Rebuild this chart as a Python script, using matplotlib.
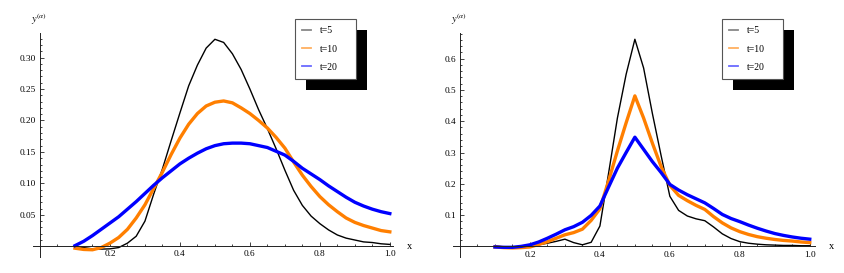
import matplotlib
matplotlib.use("Agg")
import matplotlib.pyplot as plt
from matplotlib.lines import Line2D
from matplotlib.patches import Rectangle
from matplotlib.transforms import IdentityTransform
from matplotlib.ticker import FixedLocator, FormatStrFormatter

plt.rcParams["font.family"] = ["Liberation Serif", "DejaVu Serif"]
plt.rcParams["mathtext.fontset"] = "stix"

x = [0.100, 0.125, 0.150, 0.175, 0.200, 0.225, 0.250, 0.275, 0.300, 0.325,
     0.350, 0.375, 0.400, 0.425, 0.450, 0.475, 0.500, 0.525, 0.550, 0.575,
     0.600, 0.625, 0.650, 0.675, 0.700, 0.725, 0.750, 0.775, 0.800, 0.825,
     0.850, 0.875, 0.900, 0.925, 0.950, 0.975, 1.000]

# left panel
left_t5 = [0.000, -0.002, -0.004, -0.0045, -0.004, -0.002, 0.005, 0.016, 0.040, 0.083,
           0.123, 0.168, 0.212, 0.255, 0.288, 0.315, 0.329, 0.324, 0.306, 0.281,
           0.250, 0.217, 0.187, 0.155, 0.121, 0.089, 0.065, 0.048, 0.036, 0.026,
           0.018, 0.013, 0.010, 0.007, 0.006, 0.004, 0.003]
left_t10 = [-0.003, -0.005, -0.0055, -0.002, 0.005, 0.014, 0.027, 0.045, 0.066, 0.092,
            0.118, 0.146, 0.172, 0.194, 0.211, 0.223, 0.229, 0.231, 0.228, 0.220,
            0.211, 0.200, 0.188, 0.173, 0.156, 0.134, 0.113, 0.095, 0.079, 0.066,
            0.055, 0.045, 0.038, 0.033, 0.029, 0.025, 0.023]
left_t20 = [0.001, 0.008, 0.017, 0.027, 0.037, 0.047, 0.059, 0.071, 0.084, 0.097,
            0.109, 0.120, 0.131, 0.140, 0.148, 0.155, 0.160, 0.163, 0.164, 0.164,
            0.163, 0.160, 0.157, 0.151, 0.145, 0.135, 0.124, 0.115, 0.106, 0.096,
            0.087, 0.078, 0.070, 0.064, 0.059, 0.055, 0.052]

# right panel
right_t5 = [0.002, -0.002, -0.004, -0.003, 0.000, 0.005, 0.010, 0.016, 0.023, 0.012,
            0.005, 0.013, 0.065, 0.235, 0.410, 0.550, 0.662, 0.570, 0.425, 0.290,
            0.160, 0.115, 0.097, 0.088, 0.082, 0.062, 0.040, 0.025, 0.015, 0.010,
            0.007, 0.005, 0.004, 0.003, 0.003, 0.002, 0.002]
right_t10 = [-0.002, -0.004, -0.005, -0.004, -0.002, 0.006, 0.015, 0.026, 0.037, 0.044,
             0.055, 0.083, 0.120, 0.210, 0.305, 0.395, 0.481, 0.410, 0.330, 0.255,
             0.195, 0.163, 0.146, 0.131, 0.118, 0.095, 0.075, 0.059, 0.047, 0.038,
             0.031, 0.026, 0.022, 0.019, 0.017, 0.014, 0.012]
right_t20 = [-0.002, -0.003, -0.003, 0.000, 0.005, 0.014, 0.026, 0.039, 0.053, 0.063,
             0.077, 0.099, 0.129, 0.190, 0.250, 0.300, 0.349, 0.310, 0.271, 0.236,
             0.198, 0.180, 0.165, 0.152, 0.139, 0.121, 0.102, 0.089, 0.079, 0.068,
             0.058, 0.049, 0.041, 0.035, 0.030, 0.026, 0.023]

labels = ["t=5", "t=10", "t=20"]
x_major = [0.2, 0.4, 0.6, 0.8, 1.0]
x_minor = [0.05, 0.1, 0.15, 0.25, 0.3, 0.35, 0.45, 0.5, 0.55, 0.65, 0.7, 0.75, 0.85, 0.9, 0.95]
left_y_major = [0.05, 0.10, 0.15, 0.20, 0.25, 0.30]
right_y_major = [0.1, 0.2, 0.3, 0.4, 0.5, 0.6]

fig = plt.figure(figsize=(8.45, 2.73), dpi=100)
W, H = 845, 273


def setup_axes(ax, ymajor, ystep, fmt):
    for side in ["top", "right"]:
        ax.spines[side].set_visible(False)
    ax.spines["left"].set_position("zero")
    ax.spines["bottom"].set_position("zero")
    for side in ["left", "bottom"]:
        ax.spines[side].set_linewidth(0.7)
        ax.spines[side].set_color("#222222")
    ax.xaxis.set_major_locator(FixedLocator(x_major))
    ax.xaxis.set_minor_locator(FixedLocator(x_minor))
    ax.xaxis.set_major_formatter(FormatStrFormatter("%.1f"))
    ax.yaxis.set_major_locator(FixedLocator(ymajor))
    yminor = [round(i * ystep, 3) for i in range(1, 40)
              if round(i * ystep, 3) not in ymajor and i * ystep < ax.get_ylim()[1]]
    ax.yaxis.set_minor_locator(FixedLocator(yminor))
    ax.yaxis.set_major_formatter(FormatStrFormatter(fmt))
    ax.tick_params(which="both", direction="in", width=0.6, color="#222222",
                   labelsize=6.7, pad=3)
    ax.tick_params(which="major", length=3.2)
    ax.tick_params(which="minor", length=1.6)
    ax.text(-0.004, ax.get_ylim()[1] + (ax.get_ylim()[1] - ax.get_ylim()[0]) * 0.025,
            r"$y^{(\alpha)}$", ha="center", va="bottom", fontsize=7.5)
    ax.annotate("x", xy=(1, 0), xycoords=("axes fraction", "data"),
                xytext=(10, 0), textcoords="offset points",
                ha="left", va="center", fontsize=7.5)


def add_legend(ax, left_px, top_px):
    handles = [Line2D([], [], color="#888888", lw=1.3),
               Line2D([], [], color="#ffb060", lw=1.3),
               Line2D([], [], color="#6a6aff", lw=1.3)]
    leg = ax.legend(handles, labels, loc="upper left",
                    bbox_to_anchor=(left_px / W, 1 - (top_px + 61) / H, 61 / W, 61 / H),
                    bbox_transform=fig.transFigure, mode="expand",
                    fontsize=7, handlelength=0.9, handletextpad=0.9,
                    labelspacing=0.95, borderpad=0.75, borderaxespad=0,
                    fancybox=False, framealpha=1, edgecolor="#555555")
    leg.get_frame().set_linewidth(0.8)
    leg.set_zorder(6)
    return leg


panels = [
    (33, 0.426, (-0.02, 1.009), (-0.017, 0.339), left_t5, left_t10, left_t20,
     left_y_major, 0.01, "%.2f", 295),
    (453, 0.428, (-0.02, 1.014), (-0.034, 0.682), right_t5, right_t10, right_t20,
     right_y_major, 0.02, "%.1f", 722),
]

legends = []
for left, width, xl, yl, y5, y10, y20, ymaj, ystep, fmt, leg_x in panels:
    ax = fig.add_axes([left / W, 16 / H, width, 224 / H])
    ax.set_xlim(*xl)
    ax.set_ylim(*yl)
    ax.plot(x, y5, color="black", lw=1.0, label=labels[0])
    ax.plot(x, y10, color="#ff7f00", lw=2.4, label=labels[1])
    ax.plot(x, y20, color="#0000ff", lw=2.4, label=labels[2])
    setup_axes(ax, ymaj, ystep, fmt)
    legends.append((ax, add_legend(ax, leg_x, 19)))

# black drop shadow behind the legend boxes
fig.canvas.draw()
for ax, leg in legends:
    bb = leg.get_window_extent()
    ax.add_patch(Rectangle((bb.x0 + 11, bb.y0 - 11), bb.width, bb.height,
                           facecolor="black", edgecolor="none",
                           transform=IdentityTransform(), clip_on=False, zorder=5))

fig.savefig("out.png", dpi=100)
